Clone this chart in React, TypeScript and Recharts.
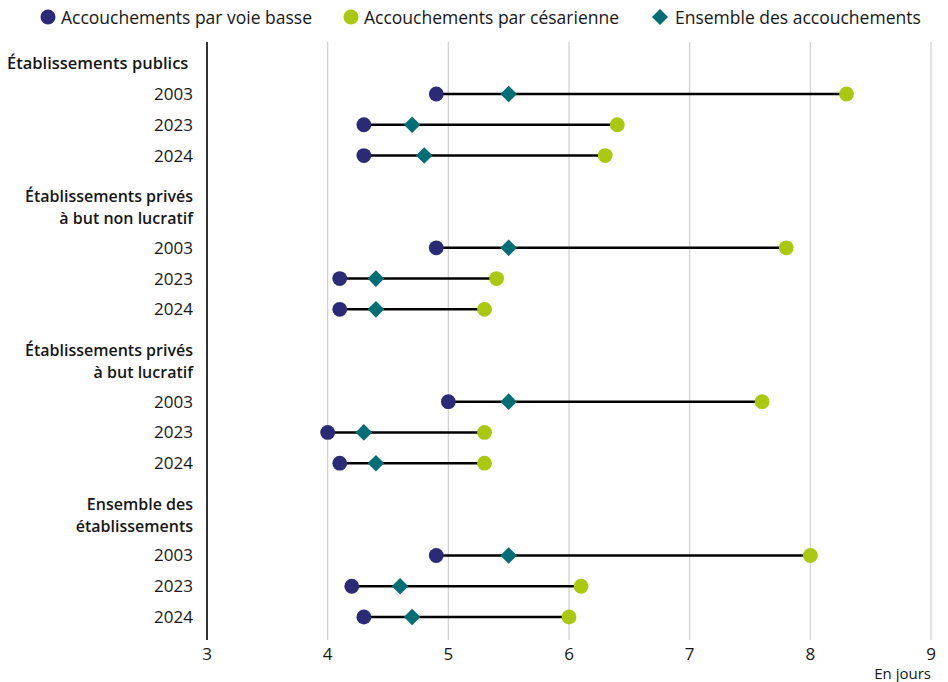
import React from "react";
import { ScatterChart, Scatter, XAxis, YAxis, CartesianGrid, Label } from "recharts";

const groups = [
  ["Établissements publics"],
  ["Établissements privés", "à but non lucratif"],
  ["Établissements privés", "à but lucratif"],
  ["Ensemble des", "établissements"],
];
const years = ["2003", "2023", "2024"];
const voieBasse = [4.9, 4.3, 4.3, 4.9, 4.1, 4.1, 5.0, 4.0, 4.1, 4.9, 4.2, 4.3];
const cesarienne = [8.3, 6.4, 6.3, 7.8, 5.4, 5.3, 7.6, 5.3, 5.3, 8.0, 6.1, 6.0];
const ensemble = [5.5, 4.7, 4.8, 5.5, 4.4, 4.4, 5.5, 4.3, 4.4, 5.5, 4.6, 4.7];
const xTicks = [3, 4, 5, 6, 7, 8, 9];

const NAVY = "#2b2a77";
const LIME = "#a9c80f";
const TEAL = "#006e74";
const FONT = "'Open Sans', sans-serif";

type Row = { slot: number; idx: number; year: string };
type Head = { slot: number; lines: string[] };

const rows: Row[] = [];
const heads: Head[] = [];
groups.forEach((g, gi) => {
  const h = gi === 0 ? 0 : 5 * gi;
  heads.push({ slot: h, lines: g });
  years.forEach((y, yi) => {
    rows.push({ slot: h + 1 + yi, idx: gi * 3 + yi, year: y });
  });
});

const basseData = rows.map((r) => ({ x: voieBasse[r.idx], y: r.slot }));
const cesData = rows.map((r) => ({ x: cesarienne[r.idx], y: r.slot }));
const ensData = rows.map((r) => ({ x: ensemble[r.idx], y: r.slot }));
const segData = rows.map((r) => [
  { x: voieBasse[r.idx], y: r.slot },
  { x: cesarienne[r.idx], y: r.slot },
]);

const yTicks = [...heads.map((h) => h.slot), ...rows.map((r) => r.slot)].sort((a, b) => a - b);

const YTick = (props: any) => {
  const { y, payload } = props;
  const v = payload.value;
  const head = heads.find((h) => h.slot === v);
  if (head) {
    const n = head.lines.length;
    const x = n === 1 ? 7 : 193;
    return (
      <text
        x={x}
        y={n === 1 ? y + 6 : y - 21 + 6}
        textAnchor={n === 1 ? "start" : "end"}
        fontFamily={FONT}
        fontSize={n === 1 ? 16.5 : 16}
        fontWeight={600}
        fill="#161616"
      >
        {head.lines.map((l, i) => (
          <tspan key={i} x={x} dy={i === 0 ? 0 : 22}>
            {l}
          </tspan>
        ))}
      </text>
    );
  }
  const row = rows.find((r) => r.slot === v);
  return (
    <text x={193} y={y} dy={6} textAnchor="end" fontFamily={FONT} fontSize={17} fill="#161616">
      {row ? row.year : ""}
    </text>
  );
};

const Circle = (color: string) => (props: any) => {
  const { cx, cy } = props;
  return <circle cx={cx} cy={cy} r={7.4} fill={color} />;
};

const Diamond = (props: any) => {
  const { cx, cy } = props;
  const r = 8.3;
  return <path d={`M${cx},${cy - r}L${cx + r},${cy}L${cx},${cy + r}L${cx - r},${cy}Z`} fill={TEAL} />;
};

const Empty = () => <g />;

const legendItems = [
  { label: "Accouchements par voie basse", color: NAVY, shape: "circle", left: 40 },
  { label: "Accouchements par césarienne", color: LIME, shape: "circle", left: 343 },
  { label: "Ensemble des accouchements", color: TEAL, shape: "diamond", left: 652 },
];

export default function App() {
  return (
    <div style={{ position: "absolute", left: 0, top: 0, width: 948, height: 682, background: "#fff" }}>
      {legendItems.map((it) => (
        <div
          key={it.label}
          style={{
            position: "absolute",
            left: it.left,
            top: 6,
            height: 22,
            display: "flex",
            alignItems: "center",
            fontFamily: FONT,
            fontSize: 17.5,
            color: "#161616",
            whiteSpace: "nowrap",
          }}
        >
          <svg width={16} height={16} style={{ marginRight: it.shape === "circle" ? 5 : 7 }}>
            {it.shape === "circle" ? (
              <circle cx={8} cy={8} r={7.5} fill={it.color} />
            ) : (
              <path d="M8,0L16,8L8,16L0,8Z" fill={it.color} />
            )}
          </svg>
          <span>{it.label}</span>
        </div>
      ))}
      <ScatterChart width={948} height={682} margin={{ top: 42, right: 17, bottom: 12, left: 0 }}>
        <CartesianGrid horizontal={false} vertical stroke="#cfcfcf" strokeWidth={1.2} />
        <XAxis
          type="number"
          dataKey="x"
          domain={[3, 9]}
          ticks={xTicks}
          allowDataOverflow
          axisLine={false}
          tickLine={false}
          height={30}
          tick={{ fontFamily: FONT, fontSize: 17, fill: "#161616" }}
        >
          <Label
            content={(p: any) => {
              const vb = p.viewBox || {};
              return (
                <text
                  x={vb.x + vb.width}
                  y={vb.y + 39}
                  textAnchor="end"
                  fontFamily={FONT}
                  fontSize={15}
                  fill="#161616"
                >
                  En jours
                </text>
              );
            }}
          />
        </XAxis>
        <YAxis
          type="number"
          dataKey="y"
          domain={[-0.69, 18.747]}
          reversed
          allowDataOverflow
          ticks={yTicks}
          interval={0}
          width={207}
          axisLine={{ stroke: "#333", strokeWidth: 2 }}
          tickLine={false}
          tick={<YTick />}
        />
        {segData.map((d, i) => (
          <Scatter
            key={"seg" + i}
            data={d}
            line={{ stroke: "#000", strokeWidth: 2.5 }}
            shape={Empty}
            isAnimationActive={false}
          />
        ))}
        <Scatter data={basseData} shape={Circle(NAVY)} isAnimationActive={false} />
        <Scatter data={cesData} shape={Circle(LIME)} isAnimationActive={false} />
        <Scatter data={ensData} shape={Diamond} isAnimationActive={false} />
      </ScatterChart>
    </div>
  );
}
